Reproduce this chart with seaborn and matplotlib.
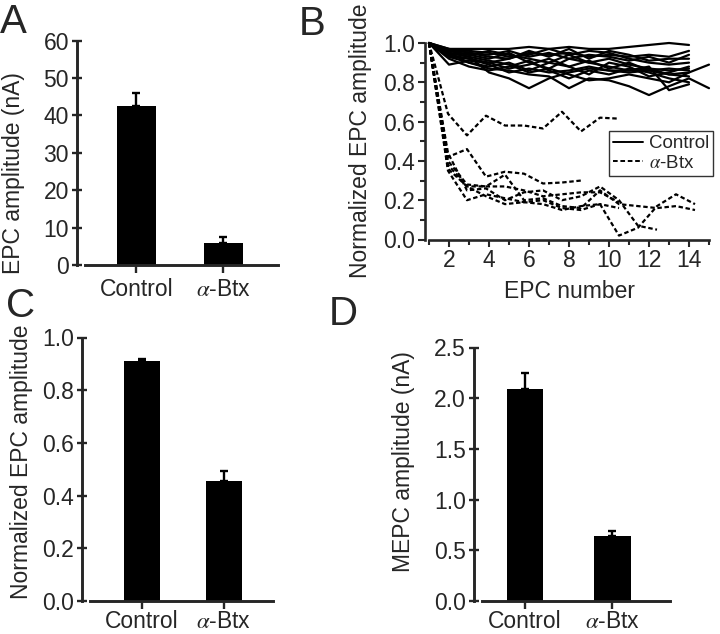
import numpy as np
import pandas as pd
import matplotlib
matplotlib.use("Agg")
import matplotlib.pyplot as plt
import seaborn as sns
from matplotlib.lines import Line2D
from matplotlib.ticker import MultipleLocator, FormatStrFormatter, FixedLocator

sns.set_style("ticks")
plt.rcParams["font.family"] = ["Liberation Sans", "DejaVu Sans"]
plt.rcParams["mathtext.fontset"] = "stix"

# ---------------- data ----------------
groups = ["Control", "$\\alpha$-Btx"]

epc_mean = [42.5, 5.8]
epc_sem = [3.4, 1.6]

norm_mean = [0.909, 0.457]
norm_sem = [0.009, 0.035]

mepc_mean = [2.09, 0.64]
mepc_sem = [0.155, 0.055]

# Panel B: normalized EPC amplitude traces
control_traces = [
    [1, 0.97, 0.97, 0.97, 0.97, 0.98, 0.97, 0.98, 0.97, 0.97, 0.98, 0.99, 1.00, 0.99],
    [1, 0.89, 0.91, 0.90, 0.92, 0.95, 0.94, 0.95, 0.93, 0.94, 0.93, 0.94, 0.93, 0.96],
    [1, 0.95, 0.93, 0.85, 0.82, 0.77, 0.82, 0.85, 0.87, 0.86, 0.85, 0.86, 0.84, 0.85, 0.89],
    [1, 0.93, 0.90, 0.87, 0.86, 0.84, 0.83, 0.77, 0.82, 0.81, 0.78, 0.735, 0.78, 0.82, 0.77],
    [1, 0.96, 0.94, 0.92, 0.95, 0.90, 0.87, 0.92, 0.90, 0.88, 0.86, 0.88, 0.76, 0.79],
    [1, 0.94, 0.95, 0.93, 0.92, 0.96, 0.93, 0.97, 0.92, 0.96, 0.94, 0.91, 0.92, 0.92],
    [1, 0.95, 0.90, 0.88, 0.90, 0.86, 0.90, 0.88, 0.84, 0.90, 0.88, 0.83, 0.85, 0.88],
    [1, 0.96, 0.96, 0.95, 0.93, 0.94, 0.97, 0.94, 0.96, 0.95, 0.92, 0.90, 0.89, 0.90],
    [1, 0.92, 0.88, 0.86, 0.88, 0.91, 0.86, 0.82, 0.86, 0.84, 0.87, 0.85, 0.82, 0.80],
    [1, 0.97, 0.95, 0.94, 0.96, 0.93, 0.95, 0.92, 0.94, 0.93, 0.91, 0.93, 0.90, 0.94],
    [1, 0.94, 0.92, 0.90, 0.87, 0.89, 0.92, 0.88, 0.91, 0.87, 0.90, 0.86, 0.87, 0.86],
    [1, 0.95, 0.93, 0.91, 0.89, 0.85, 0.87, 0.84, 0.81, 0.82, 0.84, 0.82, 0.80, 0.85],
    [1, 0.96, 0.94, 0.96, 0.94, 0.92, 0.90, 0.94, 0.90, 0.92, 0.89, 0.87, 0.86, 0.87],
    [1, 0.93, 0.92, 0.89, 0.85, 0.87, 0.85, 0.86, 0.88, 0.86, 0.86, 0.87, 0.84, 0.83],
]
btx_x = [1, 1.95, 2.9, 3.85, 4.8, 5.75, 6.7, 7.65, 8.6, 9.55, 10.5, 11.45, 12.4, 13.35, 14.3]
btx_traces = [
    [1, 0.64, 0.53, 0.63, 0.58, 0.58, 0.565, 0.65, 0.55, 0.62, 0.615],
    [1, 0.42, 0.46, 0.32, 0.345, 0.335, 0.285, 0.29, 0.30],
    [1, 0.35, 0.20, 0.23, 0.21, 0.19, 0.20, 0.16, 0.15, 0.18, 0.16],
    [1, 0.40, 0.28, 0.27, 0.33, 0.20, 0.21, 0.17, 0.16, 0.25, 0.18, 0.17, 0.16, 0.17, 0.15],
    [1, 0.36, 0.27, 0.22, 0.18, 0.19, 0.18, 0.15, 0.17, 0.18, 0.02, 0.06, 0.17, 0.23, 0.18],
    [1, 0.44, 0.25, 0.26, 0.20, 0.24, 0.25, 0.20, 0.22, 0.27, 0.20, 0.07, 0.05],
    [1, 0.38, 0.27, 0.27, 0.27, 0.25, 0.22, 0.23, 0.24, 0.24, 0.19],
]

# ---------------- figure ----------------
W, H = 720, 634
fig = plt.figure(figsize=(W / 100, H / 100), dpi=100)


def add_ax(left, top, right, bottom):
    return fig.add_axes([left / W, 1 - bottom / H, (right - left) / W, (bottom - top) / H])


FS = 16.5


def bar_panel(ax, means, sems, ylim, yticks, fmt, ylabel, xlim, width, label_xy, xpad):
    df = pd.DataFrame({"group": groups, "value": means})
    sns.barplot(data=df, x="group", y="value", color="black", saturation=1,
                width=width, errorbar=None, linewidth=0, ax=ax)
    ax.errorbar([0, 1], means, yerr=[[0, 0], sems], fmt="none", ecolor="black",
                elinewidth=1.7, capsize=3, capthick=1.7, zorder=3)
    ax.set_xlim(*xlim)
    ax.set_ylim(*ylim)
    ax.set_yticks(yticks)
    ax.yaxis.set_major_formatter(FormatStrFormatter(fmt))
    ax.set_xlabel("")
    ax.set_ylabel(ylabel, fontsize=FS)
    ax.yaxis.set_label_coords(*label_xy)
    sns.despine(ax=ax)
    for s in ("left", "bottom"):
        ax.spines[s].set_linewidth(2.1)
    ax.spines["left"].set_position(("outward", 6))
    ax.spines["left"].set_bounds(ylim[0], ylim[1])
    ax.tick_params(axis="y", direction="inout", length=7, width=1.7, labelsize=FS, pad=2)
    ax.tick_params(axis="x", direction="out", length=6, width=1.7, labelsize=FS, pad=xpad)


# Panel A
axA = add_ax(85, 40.7, 278, 265)
bar_panel(axA, epc_mean, epc_sem, (0, 60), [0, 10, 20, 30, 40, 50, 60], "%d",
          "EPC amplitude (nA)", (-0.59, 1.63), 0.45, (-0.311, 0.41), 3.0)

# Panel C
axC = add_ax(90, 337.5, 273, 601)
bar_panel(axC, norm_mean, norm_sem, (0, 1.0), [0, 0.2, 0.4, 0.6, 0.8, 1.0], "%.1f",
          "Normalized EPC amplitude", (-0.634, 1.6), 0.44, (-0.311, 0.528), 0.5)

# Panel D
axD = add_ax(482, 347.5, 670, 601)
bar_panel(axD, mepc_mean, mepc_sem, (0, 2.5), [0, 0.5, 1.0, 1.5, 2.0, 2.5], "%.1f",
          "MEPC amplitude (nA)", (-0.491, 1.657), 0.42, (-0.356, 0.55), 0.5)

# Panel B
axB = add_ax(429, 43, 709, 239.5)
rows = []
for i, tr in enumerate(control_traces):
    for k, v in enumerate(tr):
        rows.append({"n": k + 1, "v": v, "trace": f"c{i}", "group": "Control"})
for i, tr in enumerate(btx_traces):
    for k, v in enumerate(tr):
        rows.append({"n": btx_x[k], "v": v, "trace": f"b{i}", "group": "Btx"})
dfB = pd.DataFrame(rows)
sns.lineplot(data=dfB, x="n", y="v", units="trace", estimator=None, style="group",
             style_order=["Control", "Btx"], dashes={"Control": "", "Btx": (2.0, 1.2)},
             color="black", lw=1.6, legend=False, sort=False, ax=axB)
for ln in axB.lines:
    ln.set_clip_on(False)
axB.set_xlim(1, 15)
axB.set_ylim(0, 1.0)
axB.xaxis.set_major_locator(FixedLocator([2, 4, 6, 8, 10, 12, 14]))
axB.xaxis.set_minor_locator(MultipleLocator(1))
axB.yaxis.set_major_locator(MultipleLocator(0.2))
axB.yaxis.set_minor_locator(MultipleLocator(0.1))
axB.yaxis.set_major_formatter(FormatStrFormatter("%.1f"))
sns.despine(ax=axB)
for s in ("left", "bottom"):
    axB.spines[s].set_linewidth(1.9)
axB.spines["left"].set_position(("outward", 3))
axB.spines["left"].set_bounds(0, 1.0)
axB.tick_params(which="major", direction="out", length=5, width=1.5, labelsize=FS, pad=2)
axB.tick_params(which="minor", direction="out", length=3.5, width=1.5)
axB.set_xlabel("EPC number", fontsize=FS)
axB.set_ylabel("Normalized EPC amplitude", fontsize=FS)
axB.xaxis.set_label_coords(0.5, -0.206)
axB.yaxis.set_label_coords(-0.204, 0.5)

handles = [Line2D([], [], color="black", lw=1.4),
           Line2D([], [], color="black", lw=1.4, dashes=(2.4, 1.4))]
leg = axB.legend(handles, ["Control", "$\\alpha$-Btx"], loc="upper left",
                 bbox_to_anchor=(0.642, 0.552), borderaxespad=0, frameon=True,
                 fancybox=False, fontsize=13.5, handlelength=1.6, handletextpad=0.3,
                 borderpad=0.22, labelspacing=0.12)
leg.get_frame().set_edgecolor("#333333")
leg.get_frame().set_linewidth(1.0)
leg.get_frame().set_facecolor("white")
leg.get_frame().set_alpha(1)

# Panel letters
for letter, x, y in [("A", 0, 3), ("B", 299, 5), ("C", 6, 287), ("D", 329, 295)]:
    fig.text(x / W, 1 - y / H, letter, fontsize=29, va="top", ha="left")

fig.savefig("out.png", dpi=100)
